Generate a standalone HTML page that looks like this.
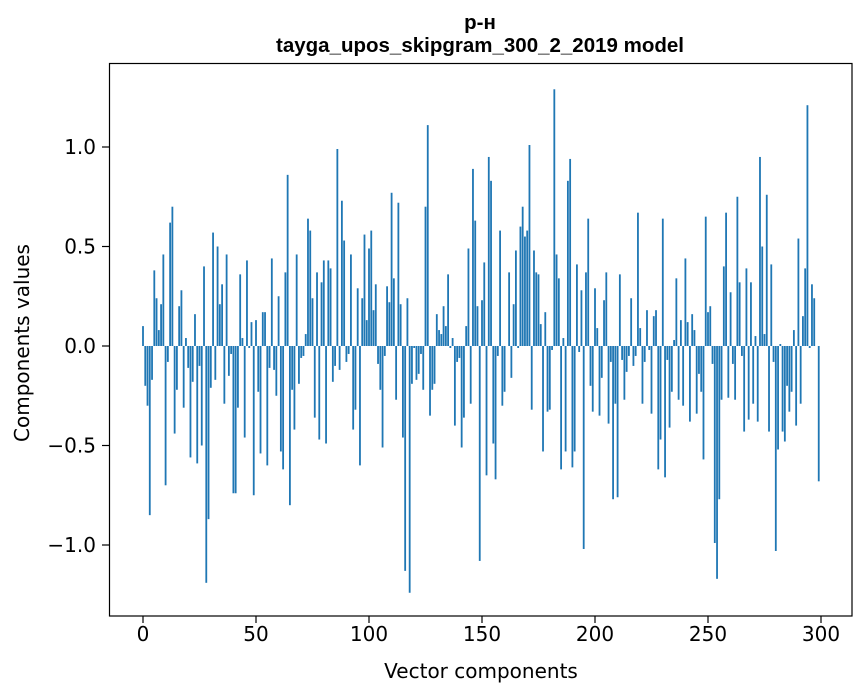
<!DOCTYPE html>
<html><head><meta charset="utf-8"><style>
html,body{margin:0;padding:0;background:#fff;}
svg{display:block;}
.tk{font-family:"DejaVu Sans",sans-serif;font-size:20px;fill:#000;}
</style></head><body>
<svg id="chart" width="867" height="696" xmlns="http://www.w3.org/2000/svg">
<rect width="867" height="696" fill="#fff"/>
<text x="480" y="29" text-anchor="middle" font-family="'Liberation Sans',sans-serif" font-weight="bold" font-size="20.5">р-н</text>
<text x="480" y="52" text-anchor="middle" font-family="'Liberation Sans',sans-serif" font-weight="bold" font-size="20.5">tayga_upos_skipgram_300_2_2019 model</text>
<g id="bars"></g>
<g id="xt"></g>
<g id="yt"></g>
<rect x="109.5" y="63.5" width="742.5" height="552.5" fill="none" stroke="#000" stroke-width="1.2"/>
<text x="481" y="678" text-anchor="middle" class="tk">Vector components</text>
<text x="0" y="0" text-anchor="middle" class="tk" transform="translate(29,343) rotate(-90)">Components values</text>
</svg>
<script>
const values = [
0.10,-0.20,-0.30,-0.85,-0.17,0.38,0.24,0.08,0.21,0.46,
-0.70,-0.08,0.62,0.70,-0.44,-0.22,0.20,0.28,-0.31,0.04,
-0.11,-0.56,-0.18,0.16,-0.59,-0.10,-0.50,0.40,-1.19,-0.87,
-0.21,0.57,-0.17,0.50,0.21,0.31,-0.29,0.46,-0.15,-0.04,
-0.74,-0.74,-0.31,0.36,0.04,-0.46,0.43,-0.01,0.12,-0.75,
0.13,-0.23,-0.54,0.17,0.17,-0.60,-0.11,0.44,-0.12,-0.25,
0.25,-0.53,-0.62,0.37,0.86,-0.80,-0.22,-0.42,0.46,-0.19,
-0.06,-0.05,0.06,0.64,0.58,0.24,-0.36,0.37,-0.47,0.32,
0.43,-0.49,0.43,0.39,-0.18,-0.10,0.99,-0.12,0.73,0.53,
-0.08,-0.04,0.46,-0.42,-0.32,0.29,-0.60,0.24,0.56,0.13,
0.49,0.58,0.18,0.31,-0.09,-0.22,-0.51,-0.05,0.30,0.22,
0.77,0.34,-0.27,0.72,0.21,-0.46,-1.13,0.24,-1.24,-0.19,
-0.01,-0.17,-0.14,-0.04,-0.22,0.70,1.11,-0.35,-0.22,-0.19,
0.16,0.08,0.06,0.20,0.10,0.36,-0.01,0.04,-0.40,-0.08,
-0.06,-0.51,-0.36,0.10,0.49,-0.29,0.89,0.63,0.20,-1.08,
0.23,0.42,-0.65,0.95,0.83,-0.49,-0.67,-0.05,0.58,-0.30,
-0.23,0.00,0.37,-0.16,0.21,0.48,-0.01,0.60,0.70,0.55,
0.58,1.01,-0.32,0.48,0.37,0.36,0.11,-0.53,0.17,-0.33,
-0.32,-0.02,1.29,0.46,0.34,-0.62,0.04,-0.53,0.83,0.94,
-0.61,-0.53,0.41,-0.03,0.28,-1.02,0.37,0.64,-0.20,-0.33,
0.29,0.09,-0.35,-0.16,0.23,0.37,-0.39,-0.08,-0.77,-0.29,
-0.76,0.36,-0.07,-0.27,-0.13,-0.05,0.24,-0.10,-0.05,0.67,
0.09,-0.29,-0.08,0.18,-0.02,-0.34,0.15,0.18,-0.62,-0.47,
0.64,-0.66,-0.07,-0.41,-0.23,0.03,0.34,-0.27,0.13,-0.30,
0.44,0.12,-0.38,0.16,0.08,-0.34,-0.14,-0.23,-0.57,0.65,
0.17,0.20,-0.09,-0.99,-1.17,-0.77,-0.27,0.40,0.67,-0.26,
0.27,-0.09,-0.27,0.75,0.32,-0.05,-0.43,0.39,-0.37,0.32,
-0.29,0.05,-0.38,0.95,0.50,0.06,0.76,-0.43,0.41,-0.08,
-1.03,-0.52,0.01,-0.43,-0.48,-0.20,-0.33,-0.23,0.08,-0.40,
0.54,-0.29,0.15,0.39,1.21,-0.01,0.31,0.24,0.00,-0.68
];
const xTicks = [0,50,100,150,200,250,300];
const yTicks = [-1.0,-0.5,0.0,0.5,1.0];
const yTickLabels = ["\u22121.0","\u22120.5","0.0","0.5","1.0"];

const NS = "http://www.w3.org/2000/svg";
function xScale(v){ return 143 + (v/300)*678; }
function yScale(v){ return 346 - v*199; }
const bw = 0.8*678/300;
const gb = document.getElementById('bars');
values.forEach((v,i)=>{
  const r = document.createElementNS(NS,'rect');
  const y0 = yScale(0), y1 = yScale(v);
  r.setAttribute('x', xScale(i)-bw/2);
  r.setAttribute('y', Math.min(y0,y1));
  r.setAttribute('width', bw);
  r.setAttribute('height', Math.abs(y1-y0));
  r.setAttribute('fill', '#1f77b4');
  
  
  gb.appendChild(r);
});
const gx = document.getElementById('xt');
xTicks.forEach(t=>{
  const x = xScale(t);
  const l = document.createElementNS(NS,'line');
  l.setAttribute('x1',x);l.setAttribute('x2',x);l.setAttribute('y1',616);l.setAttribute('y2',623);
  l.setAttribute('stroke','#000');l.setAttribute('stroke-width','1.2');
  
  
  gx.appendChild(l);
  const tx = document.createElementNS(NS,'text');
  tx.setAttribute('x',x);tx.setAttribute('y',641);tx.setAttribute('text-anchor','middle');
  tx.setAttribute('class','tk');
  tx.textContent = String(t);
  
  
  gx.appendChild(tx);
});
const gy = document.getElementById('yt');
yTicks.forEach((t,i)=>{
  const y = yScale(t);
  const l = document.createElementNS(NS,'line');
  l.setAttribute('x1',102);l.setAttribute('x2',109.5);l.setAttribute('y1',y);l.setAttribute('y2',y);
  l.setAttribute('stroke','#000');l.setAttribute('stroke-width','1.2');
  
  
  gy.appendChild(l);
  const tx = document.createElementNS(NS,'text');
  tx.setAttribute('x',96);tx.setAttribute('y',y+7);tx.setAttribute('text-anchor','end');
  tx.setAttribute('class','tk');
  tx.textContent = yTickLabels[i];
  
  
  gy.appendChild(tx);
});
</script>
</body></html>
